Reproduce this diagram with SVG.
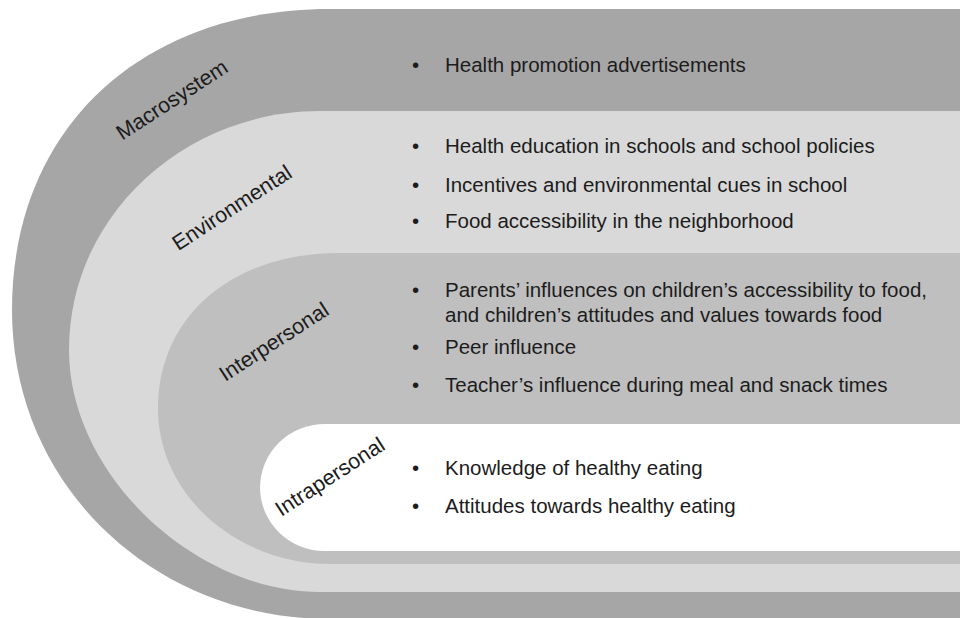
<svg xmlns="http://www.w3.org/2000/svg" width="960" height="618" viewBox="0 0 960 618">
<style>
  text { font-family: "Liberation Sans", Arial, sans-serif; font-size: 20.5px; fill: #1c1c1c; }
  .lbl { text-anchor: middle; font-size: 21.5px; }
</style>
<rect width="960" height="618" fill="#ffffff"/>
<g id="macrosystem">
  <path d="M 970 9 H 330 C 145 9 12 125 12 310 C 12 486 154 619 330 619 H 970 Z" fill="#a6a6a6"/>
  <text class="lbl" transform="translate(172,100) rotate(-33)" y="7">Macrosystem</text>
  <text x="412" y="72">•</text>
  <text x="445" y="72">Health promotion advertisements</text>
</g>
<g id="environmental">
  <path d="M 970 111 H 320 C 185 111 69 215 69 350 C 69 475 195 592 320 592 H 970 Z" fill="#d9d9d9"/>
  <text class="lbl" transform="translate(232,208) rotate(-33)" y="7">Environmental</text>
  <text x="412" y="153">•</text>
  <text x="445" y="153">Health education in schools and school policies</text>
  <text x="412" y="192">•</text>
  <text x="445" y="192">Incentives and environmental cues in school</text>
  <text x="412" y="228">•</text>
  <text x="445" y="228">Food accessibility in the neighborhood</text>
</g>
<g id="interpersonal">
  <path d="M 970 253 H 340 C 230 253 158 318 158 408 C 158 498 240 564 330 564 H 970 Z" fill="#bfbfbf"/>
  <text class="lbl" transform="translate(274,342) rotate(-33)" y="7">Interpersonal</text>
  <text x="412" y="297">•</text>
  <text x="445" y="297">Parents’ influences on children’s accessibility to food,</text>
  <text x="445" y="322">and children’s attitudes and values towards food</text>
  <text x="412" y="354">•</text>
  <text x="445" y="354">Peer influence</text>
  <text x="412" y="392">•</text>
  <text x="445" y="392">Teacher’s influence during meal and snack times</text>
</g>
<g id="intrapersonal">
  <path d="M 970 424 H 325 A 65 63.5 0 0 0 325 551 H 970 Z" fill="#ffffff"/>
  <text class="lbl" transform="translate(330,477) rotate(-33)" y="7">Intrapersonal</text>
  <text x="412" y="475">•</text>
  <text x="445" y="475">Knowledge of healthy eating</text>
  <text x="412" y="513">•</text>
  <text x="445" y="513">Attitudes towards healthy eating</text>
</g>
<g id="connectors"></g>
</svg>
